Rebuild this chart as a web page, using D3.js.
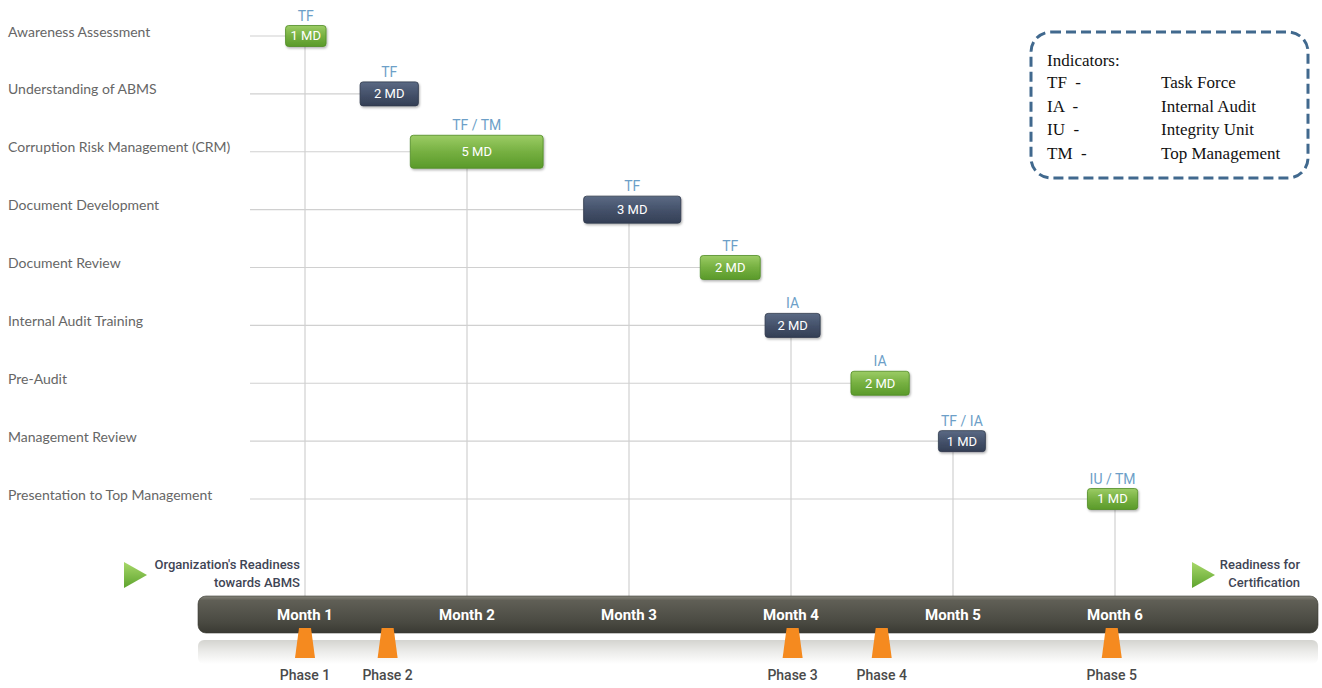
<!DOCTYPE html>
<html>
<head>
<meta charset="utf-8">
<script src="https://cdn.jsdelivr.net/npm/d3@7"></script>
<style>
  body { margin: 0; background: #fff; }
  svg { display: block; }
</style>
</head>
<body>
<svg id="chart" width="1322" height="688"></svg>
<script>
// tasks, top to bottom
const tasks = [
  "Awareness Assessment",
  "Understanding of ABMS",
  "Corruption Risk Management (CRM)",
  "Document Development",
  "Document Review",
  "Internal Audit Training",
  "Pre-Audit",
  "Management Review",
  "Presentation to Top Management"
];
// start / end in month units
const taskStart = [0.88, 1.34, 1.65, 2.72, 3.44, 3.84, 4.37, 4.91, 5.83];
const taskEnd   = [1.13, 1.70, 2.47, 3.32, 3.81, 4.18, 4.73, 5.20, 6.14];
const manDays   = [1, 2, 5, 3, 2, 2, 2, 1, 1];
const owners    = ["TF", "TF", "TF / TM", "TF", "TF", "IA", "IA", "TF / IA", "IU / TM"];
const barType   = ["green", "navy", "green", "navy", "green", "navy", "green", "navy", "green"];

const months = ["Month 1", "Month 2", "Month 3", "Month 4", "Month 5", "Month 6"];
const monthPos = [1, 2, 3, 4, 5, 6];
const phases = ["Phase 1", "Phase 2", "Phase 3", "Phase 4", "Phase 5"];
const phasePos = [1.0, 1.51, 4.01, 4.56, 5.98];

const legendCodes = ["TF", "IA", "IU", "TM"];
const legendNames = ["Task Force", "Internal Audit", "Integrity Unit", "Top Management"];

const narrow = "Roboto, 'Open Sans', sans-serif";
const serif = "'Liberation Serif', 'DejaVu Serif', serif";

const svg = d3.select("#chart");
const x = d3.scaleLinear().domain([0, 7]).range([143, 1277]);
const y = d3.scalePoint().domain(tasks).range([36, 499]);
const h = d3.scaleLinear().domain([1, 5]).range([21, 33]);
const timelineTop = 596;

const defs = svg.append("defs");
function vGrad(id, stops) {
  const g = defs.append("linearGradient").attr("id", id)
    .attr("x1", 0).attr("y1", 0).attr("x2", 0).attr("y2", 1);
  stops.forEach(s => g.append("stop").attr("offset", s[0]).attr("stop-color", s[1]));
}
vGrad("green", [[0, "#9ccc65"], [0.5, "#76b041"], [1, "#5a9a2a"]]);
vGrad("navy", [[0, "#5b6a84"], [0.5, "#45526b"], [1, "#343f55"]]);
vGrad("timeline", [[0, "#85857b"], [0.12, "#605f56"], [0.7, "#4a4a42"], [1, "#3a3a33"]]);
vGrad("reflect", [[0, "#d4d4d0"], [0.5, "#ececea"], [1, "#ffffff"]]);
vGrad("tri", [[0, "#a8d86a"], [1, "#5ea42e"]]);

const shadow = defs.append("filter").attr("id", "shadow")
  .attr("x", "-10%").attr("y", "-20%").attr("width", "130%").attr("height", "160%");
shadow.append("feDropShadow").attr("dx", 1).attr("dy", 1.5).attr("stdDeviation", 1)
  .attr("flood-color", "#000").attr("flood-opacity", 0.3);

// row lines
svg.append("g").selectAll("line").data(tasks).join("line")
  .attr("x1", 250).attr("x2", (d, i) => x(taskStart[i]))
  .attr("y1", d => y(d)).attr("y2", d => y(d))
  .attr("stroke", "#d0d0d0").attr("stroke-width", 1.2);

// month drop lines, from the first bar that spans each month
svg.append("g").selectAll("line").data(monthPos).join("line")
  .attr("x1", d => x(d)).attr("x2", d => x(d))
  .attr("y1", d => {
    const i = tasks.findIndex((t, k) => taskStart[k] <= d && taskEnd[k] >= d);
    return i < 0 ? 0 : y(tasks[i]) + h(manDays[i]) / 2;
  })
  .attr("y2", timelineTop)
  .attr("stroke", "#d0d0d0").attr("stroke-width", 1.2);

// task labels
svg.append("g").selectAll("text").data(tasks).join("text")
  .attr("x", 8).attr("y", d => y(d) - 3)
  .attr("dominant-baseline", "middle")
  .attr("font-family", "Lato, 'Open Sans', sans-serif").attr("font-size", 14)
  .attr("fill", "#666").text(d => d);

// bars
const bars = svg.append("g").selectAll("g").data(tasks).join("g");
bars.append("rect")
  .attr("x", (d, i) => x(taskStart[i]))
  .attr("y", (d, i) => y(d) - h(manDays[i]) / 2)
  .attr("width", (d, i) => x(taskEnd[i]) - x(taskStart[i]))
  .attr("height", (d, i) => h(manDays[i]))
  .attr("rx", 3)
  .attr("fill", (d, i) => `url(#${barType[i]})`)
  .attr("stroke", (d, i) => barType[i] === "green" ? "#4f8c25" : "#2d374a")
  .attr("stroke-width", 0.8)
  .attr("filter", "url(#shadow)");
bars.append("text")
  .attr("x", (d, i) => (x(taskStart[i]) + x(taskEnd[i])) / 2)
  .attr("y", d => y(d) + 1)
  .attr("text-anchor", "middle").attr("dominant-baseline", "middle")
  .attr("font-family", narrow).attr("font-size", 13)
  .attr("fill", "#fff").text((d, i) => manDays[i] + " MD");
bars.append("text")
  .attr("x", (d, i) => (x(taskStart[i]) + x(taskEnd[i])) / 2)
  .attr("y", (d, i) => y(d) - h(manDays[i]) / 2 - 5)
  .attr("text-anchor", "middle")
  .attr("font-family", narrow).attr("font-size", 14)
  .attr("fill", "#6d9fc8").text((d, i) => owners[i]);

// timeline reflection and bar
svg.append("rect").attr("x", 198).attr("y", 640).attr("width", 1120).attr("height", 24)
  .attr("rx", 6).attr("fill", "url(#reflect)");
svg.append("rect").attr("x", 198).attr("y", timelineTop).attr("width", 1120).attr("height", 37)
  .attr("rx", 8).attr("fill", "url(#timeline)").attr("stroke", "#3a3a33").attr("stroke-width", 0.6);

svg.append("g").selectAll("text").data(months).join("text")
  .attr("x", (d, i) => x(monthPos[i])).attr("y", 620)
  .attr("text-anchor", "middle")
  .attr("font-family", narrow)
  .attr("font-weight", "bold").attr("font-size", 15)
  .attr("fill", "#fff").text(d => d);

// phase markers
svg.append("g").selectAll("path").data(phasePos).join("path")
  .attr("d", d => {
    const cx = x(d);
    return `M${cx - 6},628 L${cx + 6},628 L${cx + 10},658 L${cx - 10},658 Z`;
  })
  .attr("fill", "#f58a1f");
svg.append("g").selectAll("text").data(phases).join("text")
  .attr("x", (d, i) => x(phasePos[i])).attr("y", 680)
  .attr("text-anchor", "middle")
  .attr("font-family", narrow)
  .attr("font-weight", 500).attr("font-size", 14)
  .attr("fill", "#4a4a4a").text(d => d);

// readiness markers
function readiness(tx, lines, textRight) {
  svg.append("path")
    .attr("d", `M${tx},562 L${tx + 23},575 L${tx},588 Z`)
    .attr("fill", "url(#tri)");
  svg.append("text").selectAll("tspan").data(lines).join("tspan")
    .attr("x", textRight).attr("y", (d, i) => 569 + i * 18)
    .attr("text-anchor", "end")
    .attr("font-family", narrow)
    .attr("font-weight", 500).attr("font-size", 13)
    .attr("fill", "#3f4555").text(d => d);
}
readiness(124, ["Organization's Readiness", "towards ABMS"], 300);
readiness(1192, ["Readiness for", "Certification"], 1300);

// legend
const lg = svg.append("g");
lg.append("rect").attr("x", 1031).attr("y", 32).attr("width", 277).attr("height", 146)
  .attr("rx", 20).attr("fill", "none").attr("stroke", "#41698e")
  .attr("stroke-width", 3).attr("stroke-dasharray", "10 5");
lg.append("text").attr("x", 1047).attr("y", 66)
  .attr("font-family", serif).attr("font-size", 17)
  .attr("fill", "#111").text("Indicators:");
legendCodes.forEach((c, i) => {
  lg.append("text").attr("x", 1047).attr("y", 88 + i * 23.7)
    .attr("font-family", serif).attr("font-size", 17)
    .attr("fill", "#111").attr("xml:space", "preserve").text(c + "  -");
  lg.append("text").attr("x", 1161).attr("y", 88 + i * 23.7)
    .attr("font-family", serif).attr("font-size", 17)
    .attr("fill", "#111").text(legendNames[i]);
});
</script>
</body>
</html>
